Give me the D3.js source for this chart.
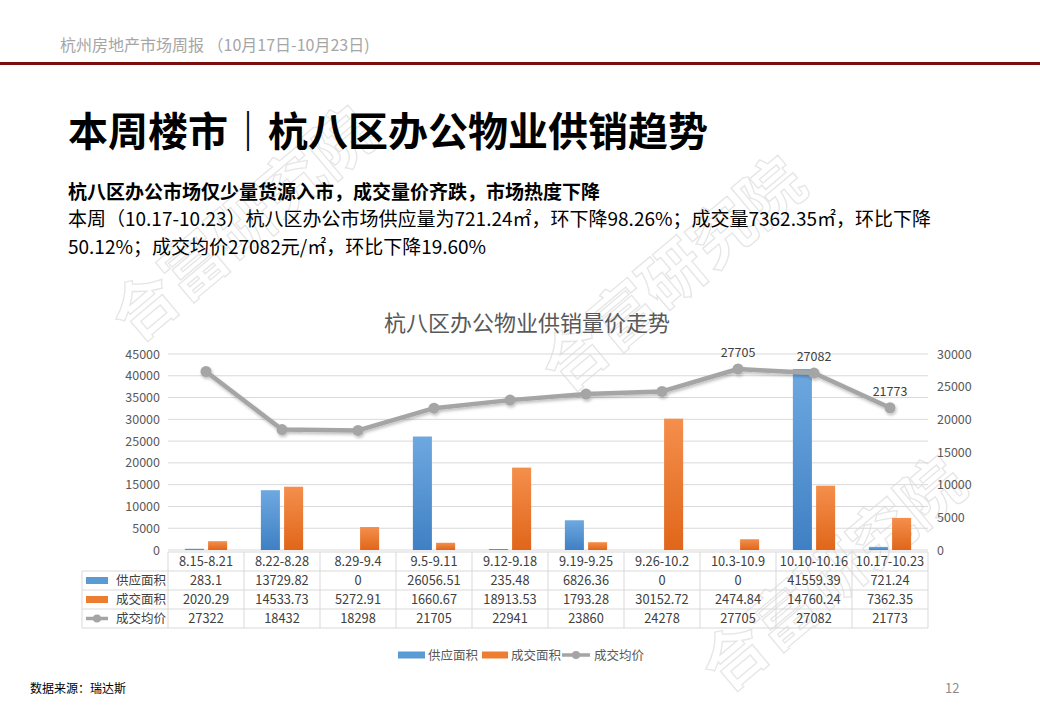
<!DOCTYPE html>
<html>
<head>
<meta charset="utf-8">
<script src="https://cdn.jsdelivr.net/npm/d3@7/dist/d3.min.js"></script>
<style>
  html, body { margin: 0; padding: 0; background: #fff; }
  svg { display: block; font-family: "Noto Sans CJK SC", "Noto Sans", sans-serif; }
</style>
</head>
<body>
<svg id="chart" width="1040" height="720"></svg>
<script>
const categories = ["8.15-8.21","8.22-8.28","8.29-9.4","9.5-9.11","9.12-9.18","9.19-9.25","9.26-10.2","10.3-10.9","10.10-10.16","10.17-10.23"];
const supplyArea = [283.1, 13729.82, 0, 26056.51, 235.48, 6826.36, 0, 0, 41559.39, 721.24];
const supplyLabels = ["283.1","13729.82","0","26056.51","235.48","6826.36","0","0","41559.39","721.24"];
const dealArea = [2020.29, 14533.73, 5272.91, 1660.67, 18913.53, 1793.28, 30152.72, 2474.84, 14760.24, 7362.35];
const dealLabels = ["2020.29","14533.73","5272.91","1660.67","18913.53","1793.28","30152.72","2474.84","14760.24","7362.35"];
const avgPrice = [27322, 18432, 18298, 21705, 22941, 23860, 24278, 27705, 27082, 21773];
const leftTicks = [0,5000,10000,15000,20000,25000,30000,35000,40000,45000];
const rightTicks = [0,5000,10000,15000,20000,25000,30000];
const labeledPoints = [7, 8, 9];
const seriesNames = ["供应面积","成交面积","成交均价"];

const svg = d3.select("#chart");
const defs = svg.append("defs");
function grad(id, top, bottom) {
  const g = defs.append("linearGradient").attr("id", id).attr("x1",0).attr("y1",0).attr("x2",0).attr("y2",1);
  g.append("stop").attr("offset","0%").attr("stop-color", top);
  g.append("stop").attr("offset","100%").attr("stop-color", bottom);
}
grad("gBlue", "#6ea8e0", "#3f80c4");
grad("gOrange", "#f48f4c", "#e0661a");
const f = defs.append("filter").attr("id","shadow").attr("x","-10%").attr("y","-30%").attr("width","120%").attr("height","160%");
f.append("feDropShadow").attr("dx",1).attr("dy",2).attr("stdDeviation",1.5).attr("flood-color","#000").attr("flood-opacity",0.25);

// watermark
const wm = svg.append("g").attr("fill","none").attr("stroke","#e6e6e6").attr("stroke-width",1.3)
  .style("font-family","'Noto Sans CJK SC', sans-serif").style("font-size","64px").style("font-weight","700");
[[135,345],[565,395],[725,695]].forEach(([x,y]) => {
  wm.append("text").attr("transform",`translate(${x},${y}) rotate(-40)`).text("合富研究院");
});

// header
svg.append("text").attr("x",60).attr("y",51).attr("fill","#a6a6a6").style("font-size","16px")
  .text("杭州房地产市场周报 （10月17日-10月23日)");
svg.append("rect").attr("x",0).attr("y",62).attr("width",1040).attr("height",3).attr("fill","#7b0d0d");

svg.append("text").attr("x",68).attr("y",146).attr("fill","#000").style("font-size","40px").style("font-weight","700")
  .text("本周楼市｜杭八区办公物业供销趋势");
svg.append("text").attr("x",68).attr("y",199).attr("fill","#000").style("font-size","19px").style("font-weight","700")
  .text("杭八区办公市场仅少量货源入市，成交量价齐跌，市场热度下降");
svg.append("text").attr("x",68).attr("y",226).attr("fill","#000").style("font-size","19px")
  .text("本周（10.17-10.23）杭八区办公市场供应量为721.24㎡，环下降98.26%；成交量7362.35㎡，环比下降");
svg.append("text").attr("x",68).attr("y",254).attr("fill","#000").style("font-size","19px")
  .text("50.12%；成交均价27082元/㎡，环比下降19.60%");

// chart
const x0 = 168, x1 = 928, yTop = 354, yBot = 550;
svg.append("text").attr("x",527).attr("y",331).attr("text-anchor","middle").attr("fill","#595959").style("font-size","22px")
  .text("杭八区办公物业供销量价走势");

const x = d3.scaleBand().domain(categories).range([x0, x1]).padding(0);
const xs = d3.scaleBand().domain(["s","d"]).range([0, x.bandwidth()]).paddingInner(0.18).paddingOuter(0.727);
const yL = d3.scaleLinear().domain([0,45000]).range([yBot, yTop]);
const yR = d3.scaleLinear().domain([0,30000]).range([yBot, yTop]);

const gridG = svg.append("g");
leftTicks.forEach(t => {
  gridG.append("line").attr("x1",x0).attr("x2",x1).attr("y1",yL(t)).attr("y2",yL(t))
    .attr("stroke","#d9d9d9").attr("stroke-width",1);
});

const axL = svg.append("g").attr("transform",`translate(${x0},0)`)
  .call(d3.axisLeft(yL).tickValues(leftTicks).tickSize(0).tickPadding(8).tickFormat(d3.format("d")));
axL.select(".domain").remove();
axL.selectAll("text").attr("fill","#595959").style("font-size","12.5px").style("font-family","'Noto Sans CJK SC', sans-serif");

const axR = svg.append("g").attr("transform",`translate(${x1},0)`)
  .call(d3.axisRight(yR).tickValues(rightTicks).tickSize(0).tickPadding(9).tickFormat(d3.format("d")));
axR.select(".domain").remove();
axR.selectAll("text").attr("fill","#595959").style("font-size","12.5px").style("font-family","'Noto Sans CJK SC', sans-serif");

// bars
const barG = svg.append("g");
barG.selectAll("rect.s").data(supplyArea).join("rect").attr("class","s")
  .attr("x",(d,i)=>x(categories[i])+xs("s")).attr("width",xs.bandwidth())
  .attr("y",d=>yL(d)).attr("height",d=>yBot-yL(d)).attr("fill","url(#gBlue)");
barG.selectAll("rect.d").data(dealArea).join("rect").attr("class","d")
  .attr("x",(d,i)=>x(categories[i])+xs("d")).attr("width",xs.bandwidth())
  .attr("y",d=>yL(d)).attr("height",d=>yBot-yL(d)).attr("fill","url(#gOrange)");

// line
const cx = (d,i) => x(categories[i]) + x.bandwidth()/2;
const lineG = svg.append("g").attr("filter","url(#shadow)");
lineG.append("path").datum(avgPrice)
  .attr("d", d3.line().x(cx).y(d=>yR(d)))
  .attr("fill","none").attr("stroke","#a5a5a5").attr("stroke-width",4.5).attr("stroke-linejoin","round");
lineG.selectAll("circle").data(avgPrice).join("circle")
  .attr("cx",cx).attr("cy",d=>yR(d)).attr("r",5.5).attr("fill","#a5a5a5");
svg.append("g").selectAll("text").data(labeledPoints).join("text")
  .attr("x",i=>cx(avgPrice[i],i)).attr("y",i=>yR(avgPrice[i])-12)
  .attr("text-anchor","middle").attr("fill","#404040").style("font-size","12.5px")
  .text(i=>avgPrice[i]);

// data table
const tLeft = 82, rowTops = [552, 571, 590, 609], rowBottom = 628, border = "#d9d9d9";
const tbl = svg.append("g");
tbl.append("line").attr("x1",x0).attr("x2",x1).attr("y1",rowTops[0]).attr("y2",rowTops[0]).attr("stroke",border);
rowTops.slice(1).concat([rowBottom]).forEach(y => {
  tbl.append("line").attr("x1",tLeft).attr("x2",x1).attr("y1",y).attr("y2",y).attr("stroke",border);
});
tbl.append("line").attr("x1",tLeft).attr("x2",tLeft).attr("y1",rowTops[1]).attr("y2",rowBottom).attr("stroke",border);
categories.forEach((c,i) => {
  const xx = x(c);
  tbl.append("line").attr("x1",xx).attr("x2",xx).attr("y1",rowTops[0]).attr("y2",rowBottom).attr("stroke",border);
});
tbl.append("line").attr("x1",x1).attr("x2",x1).attr("y1",rowTops[0]).attr("y2",rowBottom).attr("stroke",border);

const rows = [categories, supplyLabels, dealLabels, avgPrice.map(String)];
rows.forEach((vals, r) => {
  tbl.append("g").selectAll("text").data(vals).join("text")
    .attr("x",(d,i)=>x(categories[i])+x.bandwidth()/2)
    .attr("y",(rowTops[r] + (r<3 ? rowTops[r+1] : rowBottom))/2 + 4.5)
    .attr("text-anchor","middle").attr("fill","#404040").style("font-size","12.8px")
    .text(d=>d);
});
[[1,"#5b9bd5"],[2,"#ed7d31"]].forEach(([r,col]) => {
  const yc = (rowTops[r] + rowTops[r+1])/2;
  tbl.append("rect").attr("x",86).attr("y",yc-3.5).attr("width",22).attr("height",7).attr("fill",col);
  tbl.append("text").attr("x",116).attr("y",yc+4.5).attr("fill","#404040").style("font-size","12.5px").text(seriesNames[r-1]);
});
{
  const yc = (rowTops[3] + rowBottom)/2;
  tbl.append("line").attr("x1",86).attr("x2",108).attr("y1",yc).attr("y2",yc).attr("stroke","#a5a5a5").attr("stroke-width",3.5);
  tbl.append("circle").attr("cx",97).attr("cy",yc).attr("r",4).attr("fill","#a5a5a5");
  tbl.append("text").attr("x",116).attr("y",yc+4.5).attr("fill","#404040").style("font-size","12.5px").text(seriesNames[2]);
}

// bottom legend
const lg = svg.append("g");
const ly = 655;
lg.append("rect").attr("x",398).attr("y",ly-3.5).attr("width",27).attr("height",7).attr("fill","#5b9bd5");
lg.append("text").attr("x",428).attr("y",ly+4.5).attr("fill","#595959").style("font-size","12.5px").text(seriesNames[0]);
lg.append("rect").attr("x",482).attr("y",ly-3.5).attr("width",26).attr("height",7).attr("fill","#ed7d31");
lg.append("text").attr("x",511).attr("y",ly+4.5).attr("fill","#595959").style("font-size","12.5px").text(seriesNames[1]);
lg.append("line").attr("x1",562).attr("x2",590).attr("y1",ly).attr("y2",ly).attr("stroke","#a5a5a5").attr("stroke-width",3.5);
lg.append("circle").attr("cx",576).attr("cy",ly).attr("r",4).attr("fill","#a5a5a5");
lg.append("text").attr("x",594).attr("y",ly+4.5).attr("fill","#595959").style("font-size","12.5px").text(seriesNames[2]);

// footer
svg.append("text").attr("x",30).attr("y",693).attr("fill","#000").style("font-size","12px").text("数据来源：瑞达斯");
svg.append("text").attr("x",945).attr("y",693).attr("fill","#8c8c8c").style("font-size","13px").text("12");
</script>
</body>
</html>
